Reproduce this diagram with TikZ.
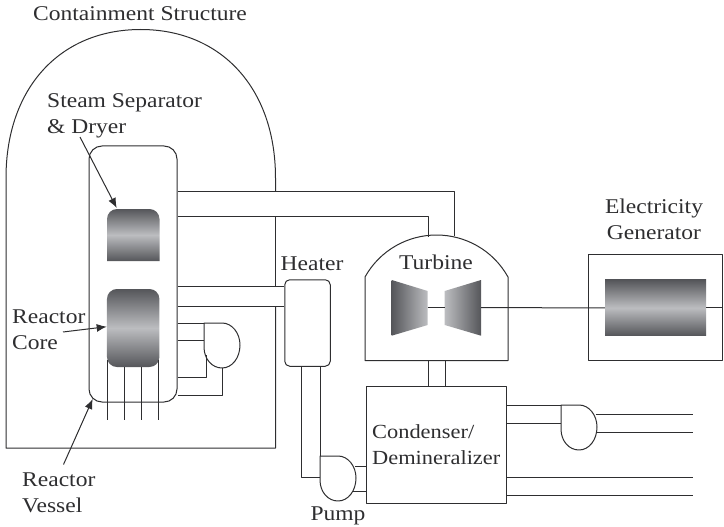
\documentclass[tikz,border=0pt]{standalone}
\usepackage{fontspec}
\setmainfont[FakeStretch=1.12]{Liberation Serif}
\usetikzlibrary{arrows.meta}
\definecolor{inkline}{HTML}{2E2E30}
\definecolor{shadedark}{HTML}{55565A}
\definecolor{shadelight}{HTML}{BCBDC0}
\tikzset{
  pipeline/.style={line width=1pt, draw=inkline},
  pointer/.style={-{Latex[length=10pt,width=8pt]}, line width=1pt, draw=inkline},
  unitbox/.style={pipeline, rectangle, inner sep=0pt},
  bandshade/.style={top color=shadedark, bottom color=shadedark, middle color=shadelight},
  caption/.style={text=inkline, inner sep=0pt, align=left, font=\fontsize{21}{26}\selectfont},
  pumpbody/.pic={
    \draw[pipeline] (0,0) -- (18,0) .. controls (28,0) and (36,10) .. (36,22)
      .. controls (36,35) and (28,45) .. (18,45) .. controls (8,45) and (0,36) .. (0,24) -- cycle;
  }
}
\begin{document}
\begin{tikzpicture}[x=1pt, y=-1pt, line join=round]
    \useasboundingbox (0,0) rectangle (724,527);

    % Containment wall, open where the pipes pass
    \coordinate (wallTop) at (275.5,191.7);
    \coordinate (wallMidA) at (275.5,216.7);
    \coordinate (wallMidB) at (275.5,286);
    \coordinate (wallLow) at (275.5,306);
    \draw[pipeline] (wallTop) -- (275.5,178) .. controls (275.5,88) and (221,29.5) .. (140.7,29.5)
      .. controls (60,29.5) and (6,88) .. (6,178) -- (6,448) -- (275.5,448) -- (wallLow);
    \draw[pipeline] (wallMidA) -- (wallMidB);

    % Vessel, heater, condenser, generator
    \node[unitbox, rounded corners=13pt, minimum width=88pt, minimum height=256pt] (vessel) at (133,274) {};
    \node[unitbox, rounded corners=5pt, minimum width=45.5pt, minimum height=86.5pt] (heater) at (307.5,323) {};
    \node[unitbox, minimum width=140pt, minimum height=117pt] (condenser) at (436,445.2) {};
    \node[unitbox, minimum width=134pt, minimum height=105.5pt] (generator) at (655,307.5) {};

    % Turbine housing
    \coordinate (housingTop) at (436.5,235);
    \draw[pipeline] (365,360.7) -- (365,277) .. controls (380,250) and (408,235) .. (housingTop)
      .. controls (465,235) and (493,250) .. (508,277) -- (508,360.7) -- cycle;

    % Shaded parts
    \shade[bandshade] (107,261) [rounded corners=10pt] -- (107,209) -- (159.5,209) [sharp corners] -- (159.5,261) -- cycle;
    \coordinate (separator) at (116.7,208);
    \node[bandshade, rounded corners=10pt, inner sep=0pt, minimum width=52.5pt, minimum height=78pt] (core) at (133.2,328) {};
    \node[bandshade, inner sep=0pt, minimum width=101pt, minimum height=55.7pt] (rotor) at (655.5,307.8) {};
    \shade[left color=shadedark, right color=shadelight] (391.7,280) -- (427.7,291) -- (427.7,325) -- (391.7,335.7) -- cycle;
    \shade[left color=shadelight, right color=shadedark] (444.7,291) -- (481,280) -- (481,335.7) -- (444.7,325) -- cycle;

    % Shaft
    \draw[pipeline] (427.7,307.7) -- (444.7,307.7);
    \draw[pipeline] (481,307.7) -- (rotor.west);
    \draw[pipeline] (rotor.east) -- (generator.east |- rotor.east);

    % Steam pipes
    \draw[pipeline] (vessel.east |- wallTop) -- (454,191.7) -- (454,236);
    \draw[pipeline] (vessel.east |- wallMidA) -- (428,216.7) -- (428,237);
    \draw[pipeline] (vessel.east |- wallMidB) -- (heater.west |- wallMidB);
    \draw[pipeline] (vessel.east |- wallLow) -- (heater.west |- wallLow);
    \draw[pipeline] (428,360.7) -- (428,386.7);
    \draw[pipeline] (445,360.7) -- (445,386.7);

    % Rods
    \foreach \rodx/\rodtop in {107.6/360,124.5/367,141.5/367,158.4/360}
      \draw[pipeline] (\rodx,\rodtop) -- (\rodx,420);

    % Pump inside containment
    \pic at (204,323) {pumpbody};
    \draw[pipeline] (vessel.east |- 0,323) -- (204,323);
    \draw[pipeline] (vessel.east |- 0,340.3) -- (204,340.3);
    \draw[pipeline] (vessel.east |- 0,377) -- (206.5,377) -- (206.5,355);
    \draw[pipeline] (vessel.east |- 0,395) -- (222,395) -- (222,368);

    % Feed pump
    \pic at (320,456) {pumpbody};
    \draw[pipeline] (320,366.3) -- (320,456);
    \draw[pipeline] (301.7,366.3) -- (301.7,477.7) -- (320,477.7);
    \draw[pipeline] (355,466) -- (condenser.west |- 0,466);
    \draw[pipeline] (353,491.7) -- (condenser.west |- 0,491.7);

    % Pump on the cooling side
    \pic at (561,405) {pumpbody};
    \draw[pipeline] (condenser.east |- 0,405.5) -- (561,405.5);
    \draw[pipeline] (condenser.east |- 0,423) -- (561,423);
    \draw[pipeline] (595.5,414.3) -- (693,414.3);
    \draw[pipeline] (597,432.7) -- (693,432.7);
    \draw[pipeline] (condenser.east |- 0,477.7) -- (693,477.7);
    \draw[pipeline] (condenser.east |- 0,495) -- (693,495);

    % Labels
    \node[caption, anchor=base] (containLabel) at (140,20.5) {Containment Structure};
    \node[caption, anchor=west] (steamLabel) at (47,116) {Steam Separator\\\&~Dryer};
    \node[caption, anchor=west] (coreLabel) at (12,329.5) {Reactor\\Core};
    \node[caption, anchor=west] (vesselLabel) at (22,492.5) {Reactor\\Vessel};
    \node[caption, anchor=base] (heaterLabel) at (312,270) {Heater};
    \node[caption, anchor=base] (turbineLabel) at (436,269) {Turbine};
    \node[caption, anchor=west, font=\fontsize{20}{26}\selectfont] (condLabel) at (372,445) {Condenser/\\Demineralizer};
    \node[caption, anchor=base] (pumpLabel) at (338,520) {Pump};
    \node[caption, anchor=center, align=center] (genLabel) at (654,219.5) {Electricity\\Generator};

    % Pointers
    \coordinate (steamTail) at (80,137);
    \coordinate (coreTail) at (63,332);
    \coordinate (vesselTail) at (63.5,464.5);
    \draw[pointer] (steamTail) -- (separator);
    \draw[pointer] (coreTail) -- (106.7,326.7);
    \draw[pointer] (vesselTail) -- (92.7,399);

\end{tikzpicture}
\end{document}
